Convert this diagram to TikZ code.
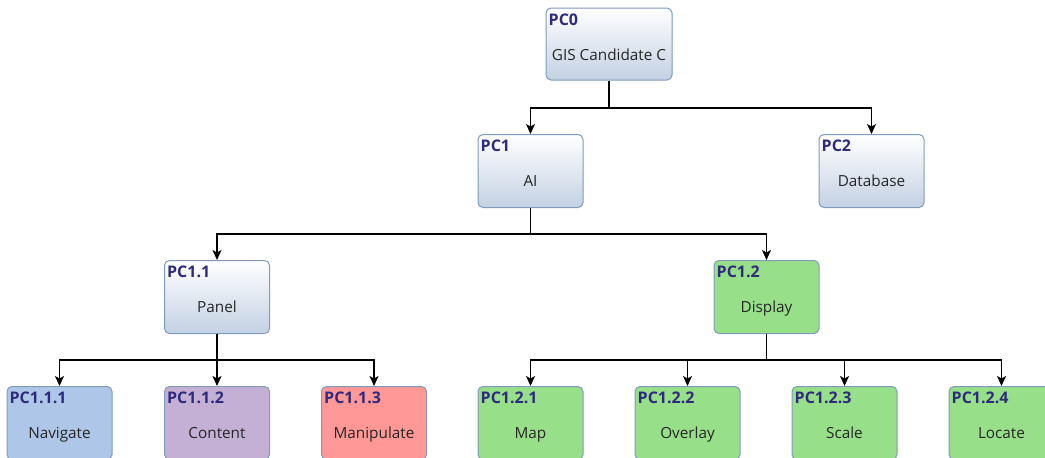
\documentclass[tikz,border=0pt]{standalone}
\usepackage{fontspec}
\setmainfont{Open Sans}
\usetikzlibrary{arrows.meta}
\definecolor{edgeblue}{HTML}{7F9BBA}
\definecolor{shadebottom}{HTML}{C3D1E3}
\definecolor{titleblue}{HTML}{2E2A7E}
\definecolor{labelgray}{HTML}{262626}
\definecolor{leafblue}{HTML}{AEC7E8}
\definecolor{leafpurple}{HTML}{C5B0D5}
\definecolor{leafred}{HTML}{FF9896}
\definecolor{leafgreen}{HTML}{98DF8A}
\tikzset{
  pbox/.style 2 args={draw=edgeblue, line width=1pt, rounded corners=5pt,
    minimum width=105pt, minimum height=73pt, inner sep=0pt,
    label={[anchor=base west, inner sep=0pt, xshift=3pt, yshift=-17.5pt,
            text=titleblue, font=\fontsize{16}{18}\selectfont\bfseries]north west:#1},
    label={[anchor=base, inner sep=0pt, yshift=-52.5pt,
            text=labelgray, font=\fontsize{15.3}{17}\selectfont]north:#2}},
  shaded/.style={top color=white, bottom color=shadebottom},
  conn/.style={draw=black, line width=1.4pt, -{Stealth[length=10pt,width=9pt,inset=2.5pt]}},
  bus/.style={draw=black, line width=1.4pt}
}
\begin{document}
\begin{tikzpicture}[x=1pt, y=-1pt]
\useasboundingbox (0,0) rectangle (1045,458);

% root and second level
\node[pbox={PC0}{GIS Candidate C}, shaded, minimum width=126pt, minimum height=72pt] (p0) at (609,44) {};
\node[pbox={PC1}{AI}, shaded] (p1) at (530.5,171) {};
\node[pbox={PC2}{Database}, shaded] (p2) at (871.5,171) {};

% third level
\node[pbox={PC1.1}{Panel}, shaded] (p11) at (217,297) {};
\node[pbox={PC1.2}{Display}, fill=leafgreen] (p12) at (766.5,297) {};

% leaves
\node[pbox={PC1.1.1}{Navigate}, fill=leafblue] (p111) at (59.5,423) {};
\node[pbox={PC1.1.2}{Content}, fill=leafpurple] (p112) at (217,423) {};
\node[pbox={PC1.1.3}{Manipulate}, fill=leafred] (p113) at (374,423) {};
\node[pbox={PC1.2.1}{Map}, fill=leafgreen] (p121) at (530.5,423) {};
\node[pbox={PC1.2.2}{Overlay}, fill=leafgreen] (p122) at (687.5,423) {};
\node[pbox={PC1.2.3}{Scale}, fill=leafgreen] (p123) at (844.5,423) {};
\node[pbox={PC1.2.4}{Locate}, fill=leafgreen] (p124) at (1001.5,423) {};

% junction points of the connector buses
\coordinate (b0) at (609,108);
\coordinate (b1) at (530.5,234);
\coordinate (b11) at (217,360);
\coordinate (b12) at (766.5,360);

\draw[bus] (p0.south) -- (b0);
\draw[conn] (b0) -| (p1.north);
\draw[conn] (b0) -| (p2.north);

\draw[bus] (p1.south) -- (b1);
\draw[conn] (b1) -| (p11.north);
\draw[conn] (b1) -| (p12.north);

\draw[conn] (p11.south) -- (p112.north);
\draw[conn] (b11) -| (p111.north);
\draw[conn] (b11) -| (p113.north);

\draw[bus] (p12.south) -- (b12);
\draw[conn] (b12) -| (p121.north);
\draw[conn] (b12) -| (p122.north);
\draw[conn] (b12) -| (p123.north);
\draw[conn] (b12) -| (p124.north);
\end{tikzpicture}
\end{document}
